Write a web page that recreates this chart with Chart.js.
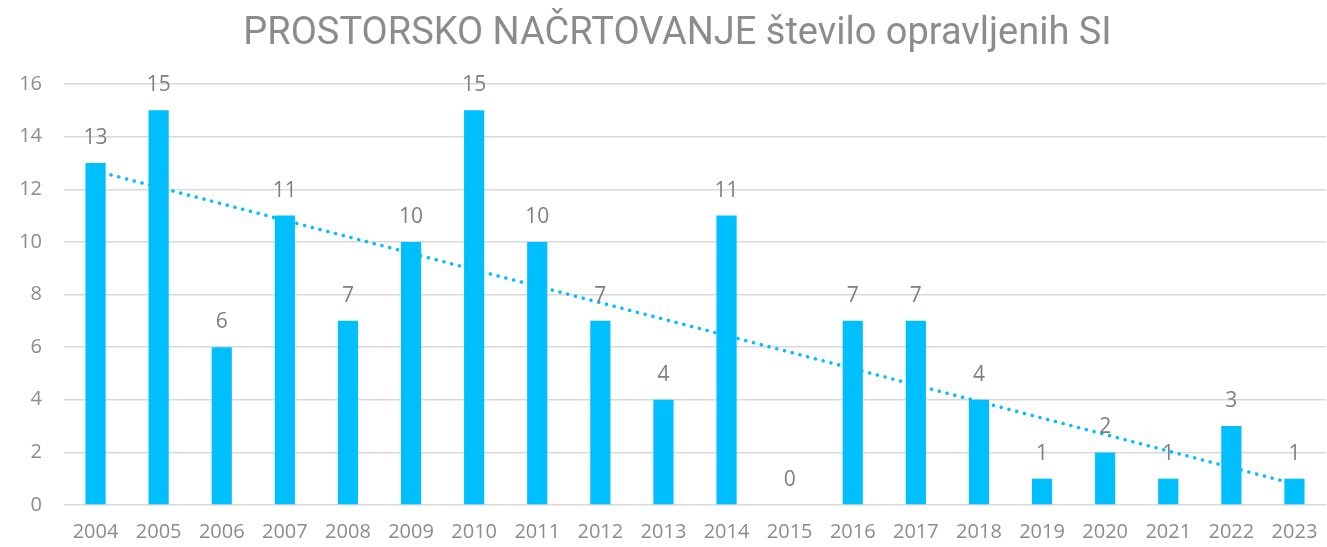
<!DOCTYPE html>
<html>
<head>
<meta charset="utf-8">
<script src="https://cdn.jsdelivr.net/npm/chart.js@4"></script>
<style>
  html, body { margin: 0; padding: 0; background: #fff; }
  #wrap { width: 1327px; height: 547px; }
</style>
</head>
<body>
<div id="wrap"><canvas id="chart"></canvas></div>
<script>
// values
const chartTitle = 'PROSTORSKO NAČRTOVANJE število opravljenih SI';
const years = ['2004', '2005', '2006', '2007', '2008', '2009', '2010', '2011', '2012', '2013',
               '2014', '2015', '2016', '2017', '2018', '2019', '2020', '2021', '2022', '2023'];
const counts = [13, 15, 6, 11, 7, 10, 15, 10, 7, 4, 11, 0, 7, 7, 4, 1, 2, 1, 3, 1];
// linear trend line, only its two ends
const trend = [12.7, null, null, null, null, null, null, null, null, null,
               null, null, null, null, null, null, null, null, null, 0.8];
const yTicks = [0, 2, 4, 6, 8, 10, 12, 14, 16];

const BLUE = '#00bfff';
const GREY = '#8c8c8c';

// value labels above the bars
const valueLabels = {
  id: 'valueLabels',
  afterDatasetsDraw(chart) {
    const meta = chart.getDatasetMeta(0);
    const ctx = chart.ctx;
    ctx.save();
    ctx.font = '21px "Open Sans", sans-serif';
    ctx.fillStyle = '#7f7f7f';
    ctx.textAlign = 'center';
    ctx.textBaseline = 'middle';
    meta.data.forEach(function(bar, i) {
      ctx.fillText(String(counts[i]), bar.x, bar.y - 25);
    });
    ctx.restore();
  }
};

// title, sitting a little right of the canvas centre like the original
const titlePlugin = {
  id: 'titleText',
  afterDraw(chart) {
    const ctx = chart.ctx;
    ctx.save();
    ctx.font = '38px Roboto, sans-serif';
    ctx.fillStyle = GREY;
    ctx.textAlign = 'center';
    ctx.textBaseline = 'middle';
    ctx.fillText(chartTitle, chart.width / 2 + 14, 34);
    ctx.restore();
  }
};

new Chart(document.getElementById('chart'), {
  type: 'bar',
  data: {
    labels: years,
    datasets: [
      {
        type: 'bar',
        label: 'število',
        data: counts,
        backgroundColor: BLUE,
        borderWidth: 0,
        barPercentage: 0.32,
        categoryPercentage: 1,
        order: 1
      },
      {
        type: 'line',
        label: 'trend',
        data: trend,
        spanGaps: true,
        borderColor: BLUE,
        borderWidth: 3.5,
        borderDash: [0.1, 7.9],
        borderCapStyle: 'round',
        pointRadius: 0,
        fill: false,
        order: 2
      }
    ]
  },
  options: {
    responsive: true,
    maintainAspectRatio: false,
    animation: false,
    layout: { padding: { left: 0, right: 1, top: 84, bottom: 0 } },
    plugins: {
      legend: { display: false },
      tooltip: { enabled: false },
      title: { display: false }
    },
    scales: {
      x: {
        afterFit(scale) {
          scale.height = 42;
          scale.paddingLeft = 0;
          scale.paddingRight = 0;
        },
        grid: { display: false, drawTicks: false },
        border: { display: false },
        ticks: {
          color: GREY,
          font: { family: '"Open Sans"', size: 20 },
          padding: 15,
          maxRotation: 0
        }
      },
      y: {
        min: 0,
        max: 16,
        afterFit(scale) {
          scale.width = 64;
          scale.paddingTop = 0;
          scale.paddingBottom = 0;
        },
        afterBuildTicks(scale) { scale.ticks = yTicks.map(function(v) { return { value: v }; }); },
        grid: { color: '#d9d9d9', lineWidth: 1.5, drawTicks: false },
        border: { display: false },
        ticks: {
          color: GREY,
          font: { family: '"Open Sans"', size: 20 },
          padding: 22
        }
      }
    }
  },
  plugins: [valueLabels, titlePlugin]
});
</script>
</body>
</html>
